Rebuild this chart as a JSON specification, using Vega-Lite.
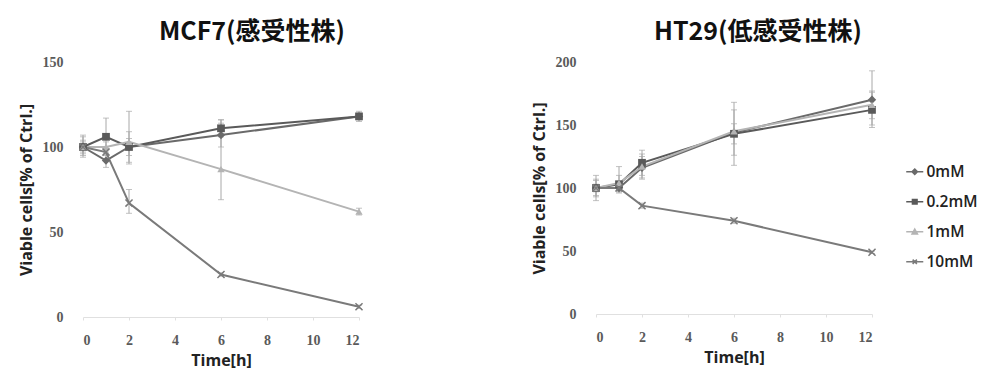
{
  "$schema": "https://vega.github.io/schema/vega-lite/v6.json",
  "background": "white",
  "padding": {"left": 18, "top": 20, "right": 0, "bottom": 0},
  "config": {
    "view": {"stroke": null},
    "concat": {"spacing": 165},
    "axis": {
      "labelFont": "Liberation Serif", "labelFontSize": 14, "labelColor": "#5a5a5a", "labelFontWeight": "bold",
      "titleFont": "Open Sans", "titleFontSize": 16, "titleFontWeight": "bold", "titleColor": "#222",
      "grid": false
    },
    "title": {"font": "Noto Sans CJK JP", "fontSize": 25, "fontWeight": "bold", "color": "#111", "offset": 10}
  },
  "data": {"values": [
    {"cell": "MCF7", "conc": "0mM", "t": 0, "v": 100, "lo": 94, "hi": 106},
    {"cell": "MCF7", "conc": "0mM", "t": 1, "v": 92, "lo": 88, "hi": 96},
    {"cell": "MCF7", "conc": "0mM", "t": 2, "v": 100, "lo": 91, "hi": 109},
    {"cell": "MCF7", "conc": "0mM", "t": 6, "v": 107, "lo": 100, "hi": 114},
    {"cell": "MCF7", "conc": "0mM", "t": 12, "v": 118, "lo": 116, "hi": 120},
    {"cell": "MCF7", "conc": "0.2mM", "t": 0, "v": 100, "lo": 95, "hi": 107},
    {"cell": "MCF7", "conc": "0.2mM", "t": 1, "v": 106, "lo": 100, "hi": 117},
    {"cell": "MCF7", "conc": "0.2mM", "t": 2, "v": 100, "lo": 95, "hi": 105},
    {"cell": "MCF7", "conc": "0.2mM", "t": 6, "v": 111, "lo": 106, "hi": 116},
    {"cell": "MCF7", "conc": "0.2mM", "t": 12, "v": 118, "lo": 115, "hi": 121},
    {"cell": "MCF7", "conc": "1mM", "t": 0, "v": 100, "lo": 96, "hi": 104},
    {"cell": "MCF7", "conc": "1mM", "t": 1, "v": 100, "lo": 97, "hi": 103},
    {"cell": "MCF7", "conc": "1mM", "t": 2, "v": 103, "lo": 90, "hi": 121},
    {"cell": "MCF7", "conc": "1mM", "t": 6, "v": 87, "lo": 69, "hi": 116},
    {"cell": "MCF7", "conc": "1mM", "t": 12, "v": 62, "lo": 60, "hi": 64},
    {"cell": "MCF7", "conc": "10mM", "t": 0, "v": 100, "lo": 97, "hi": 103},
    {"cell": "MCF7", "conc": "10mM", "t": 1, "v": 97, "lo": 95, "hi": 99},
    {"cell": "MCF7", "conc": "10mM", "t": 2, "v": 67, "lo": 61, "hi": 75},
    {"cell": "MCF7", "conc": "10mM", "t": 6, "v": 25, "lo": 24, "hi": 26},
    {"cell": "MCF7", "conc": "10mM", "t": 12, "v": 6, "lo": 5, "hi": 7},
    {"cell": "HT29", "conc": "0mM", "t": 0, "v": 100, "lo": 90, "hi": 110},
    {"cell": "HT29", "conc": "0mM", "t": 1, "v": 100, "lo": 96, "hi": 104},
    {"cell": "HT29", "conc": "0mM", "t": 2, "v": 116, "lo": 108, "hi": 125},
    {"cell": "HT29", "conc": "0mM", "t": 6, "v": 144, "lo": 118, "hi": 168},
    {"cell": "HT29", "conc": "0mM", "t": 12, "v": 170, "lo": 150, "hi": 193},
    {"cell": "HT29", "conc": "0.2mM", "t": 0, "v": 100, "lo": 94, "hi": 106},
    {"cell": "HT29", "conc": "0.2mM", "t": 1, "v": 103, "lo": 98, "hi": 110},
    {"cell": "HT29", "conc": "0.2mM", "t": 2, "v": 120, "lo": 110, "hi": 130},
    {"cell": "HT29", "conc": "0.2mM", "t": 6, "v": 143, "lo": 135, "hi": 151},
    {"cell": "HT29", "conc": "0.2mM", "t": 12, "v": 162, "lo": 148, "hi": 176},
    {"cell": "HT29", "conc": "1mM", "t": 0, "v": 100, "lo": 93, "hi": 107},
    {"cell": "HT29", "conc": "1mM", "t": 1, "v": 104, "lo": 97, "hi": 117},
    {"cell": "HT29", "conc": "1mM", "t": 2, "v": 117, "lo": 107, "hi": 127},
    {"cell": "HT29", "conc": "1mM", "t": 6, "v": 145, "lo": 126, "hi": 162},
    {"cell": "HT29", "conc": "1mM", "t": 12, "v": 166, "lo": 155, "hi": 177},
    {"cell": "HT29", "conc": "10mM", "t": 0, "v": 100, "lo": 97, "hi": 103},
    {"cell": "HT29", "conc": "10mM", "t": 1, "v": 100, "lo": 97, "hi": 103},
    {"cell": "HT29", "conc": "10mM", "t": 2, "v": 86, "lo": 84, "hi": 88},
    {"cell": "HT29", "conc": "10mM", "t": 6, "v": 74, "lo": 72, "hi": 76},
    {"cell": "HT29", "conc": "10mM", "t": 12, "v": 49, "lo": 48, "hi": 50}
  ]},
  "hconcat": [
    {
      "title": {"text": "MCF7(感受性株)", "dx": 31},
      "width": 276, "height": 255,
      "transform": [{"filter": "datum.cell == 'MCF7'"}],
      "encoding": {
        "x": {"field": "t", "type": "quantitative", "title": "Time[h]",
              "scale": {"domain": [0, 12], "nice": false},
              "axis": {"values": [0, 2, 4, 6, 8, 10, 12], "labelPadding": 13, "titlePadding": 5, "domainColor": "#e0e0e0", "tickColor": "#e0e0e0", "tickSize": 3}},
        "y": {"field": "v", "type": "quantitative", "title": "Viable cells[% of Ctrl.]",
              "scale": {"domain": [0, 150], "nice": false},
              "axis": {"values": [0, 50, 100, 150], "domain": false, "ticks": false, "labelPadding": 20, "titlePadding": 8}}
      },
      "layer": [
        {"mark": {"type": "rule", "color": "#a8a8a8", "strokeWidth": 1},
         "encoding": {"y": {"field": "lo", "type": "quantitative"}, "y2": {"field": "hi"}}},
        {"mark": {"type": "tick", "color": "#a8a8a8", "thickness": 1, "size": 6, "orient": "horizontal"},
         "encoding": {"y": {"field": "lo", "type": "quantitative"}}},
        {"mark": {"type": "tick", "color": "#a8a8a8", "thickness": 1, "size": 6, "orient": "horizontal"},
         "encoding": {"y": {"field": "hi", "type": "quantitative"}}},
        {"mark": {"type": "line", "strokeWidth": 2},
         "encoding": {"color": {"field": "conc", "type": "nominal",
           "scale": {"domain": ["0mM", "0.2mM", "1mM", "10mM"], "range": ["#6a6a6a", "#5a5a5a", "#b4b4b4", "#7a7a7a"]}}}},
        {"transform": [{"filter": "datum.conc == '0mM'"}],
         "mark": {"type": "point", "shape": "diamond", "filled": true, "size": 70, "color": "#6a6a6a", "opacity": 1}},
        {"transform": [{"filter": "datum.conc == '0.2mM'"}],
         "mark": {"type": "point", "shape": "square", "filled": true, "size": 60, "color": "#5a5a5a", "opacity": 1}},
        {"transform": [{"filter": "datum.conc == '1mM'"}],
         "mark": {"type": "point", "shape": "triangle-up", "filled": true, "size": 55, "color": "#b4b4b4", "opacity": 1}},
        {"transform": [{"filter": "datum.conc == '10mM'"}],
         "mark": {"type": "point", "shape": "M-1,-1L1,1M-1,1L1,-1", "filled": false, "size": 50, "strokeWidth": 1.5, "color": "#7a7a7a", "opacity": 1}}
      ]
    },
    {
      "title": {"text": "HT29(低感受性株)", "dx": 24},
      "width": 276, "height": 252,
      "transform": [{"filter": "datum.cell == 'HT29'"}],
      "encoding": {
        "x": {"field": "t", "type": "quantitative", "title": "Time[h]",
              "scale": {"domain": [0, 12], "nice": false},
              "axis": {"values": [0, 2, 4, 6, 8, 10, 12], "labelPadding": 13, "titlePadding": 5, "domainColor": "#e0e0e0", "tickColor": "#e0e0e0", "tickSize": 3}},
        "y": {"field": "v", "type": "quantitative", "title": "Viable cells[% of Ctrl.]",
              "scale": {"domain": [0, 200], "nice": false},
              "axis": {"values": [0, 50, 100, 150, 200], "domain": false, "ticks": false, "labelPadding": 20, "titlePadding": 8}}
      },
      "layer": [
        {"mark": {"type": "rule", "color": "#a8a8a8", "strokeWidth": 1},
         "encoding": {"y": {"field": "lo", "type": "quantitative"}, "y2": {"field": "hi"}}},
        {"mark": {"type": "tick", "color": "#a8a8a8", "thickness": 1, "size": 6, "orient": "horizontal"},
         "encoding": {"y": {"field": "lo", "type": "quantitative"}}},
        {"mark": {"type": "tick", "color": "#a8a8a8", "thickness": 1, "size": 6, "orient": "horizontal"},
         "encoding": {"y": {"field": "hi", "type": "quantitative"}}},
        {"mark": {"type": "line", "strokeWidth": 2},
         "encoding": {"color": {"field": "conc", "type": "nominal",
           "scale": {"domain": ["0mM", "0.2mM", "1mM", "10mM"], "range": ["#6a6a6a", "#5a5a5a", "#b4b4b4", "#7a7a7a"]},
           "legend": {"title": null, "orient": "none", "legendX": 824, "legendY": 102, "labelFont": "Open Sans", "labelFontSize": 15.5, "labelFontWeight": 600, "labelColor": "#222", "labelOffset": 4, "rowPadding": 13, "symbolSize": 60, "symbolStrokeWidth": 1.5,
             "encode": {"symbols": {"update": {
               "shape": {"signal": "datum.value == '0mM' ? 'M-2.2,0H2.2M0,-0.7L0.7,0L0,0.7L-0.7,0Z' : datum.value == '0.2mM' ? 'M-2.2,0H2.2M-0.6,-0.6H0.6V0.6H-0.6Z' : datum.value == '1mM' ? 'M-2.2,0H2.2M0,-0.7L0.7,0.55H-0.7Z' : 'M-2.2,0H2.2M-0.55,-0.55L0.55,0.55M-0.55,0.55L0.55,-0.55'"},
               "fill": {"signal": "datum.value == '0mM' ? '#6a6a6a' : datum.value == '0.2mM' ? '#5a5a5a' : datum.value == '1mM' ? '#b4b4b4' : '#7a7a7a'"},
               "stroke": {"signal": "datum.value == '0mM' ? '#6a6a6a' : datum.value == '0.2mM' ? '#5a5a5a' : datum.value == '1mM' ? '#b4b4b4' : '#7a7a7a'"}
             }}}}}}},
        {"transform": [{"filter": "datum.conc == '0mM'"}],
         "mark": {"type": "point", "shape": "diamond", "filled": true, "size": 70, "color": "#6a6a6a", "opacity": 1}},
        {"transform": [{"filter": "datum.conc == '0.2mM'"}],
         "mark": {"type": "point", "shape": "square", "filled": true, "size": 60, "color": "#5a5a5a", "opacity": 1}},
        {"transform": [{"filter": "datum.conc == '1mM'"}],
         "mark": {"type": "point", "shape": "triangle-up", "filled": true, "size": 55, "color": "#b4b4b4", "opacity": 1}},
        {"transform": [{"filter": "datum.conc == '10mM'"}],
         "mark": {"type": "point", "shape": "M-1,-1L1,1M-1,1L1,-1", "filled": false, "size": 50, "strokeWidth": 1.5, "color": "#7a7a7a", "opacity": 1}}
      ]
    }
  ]
}
